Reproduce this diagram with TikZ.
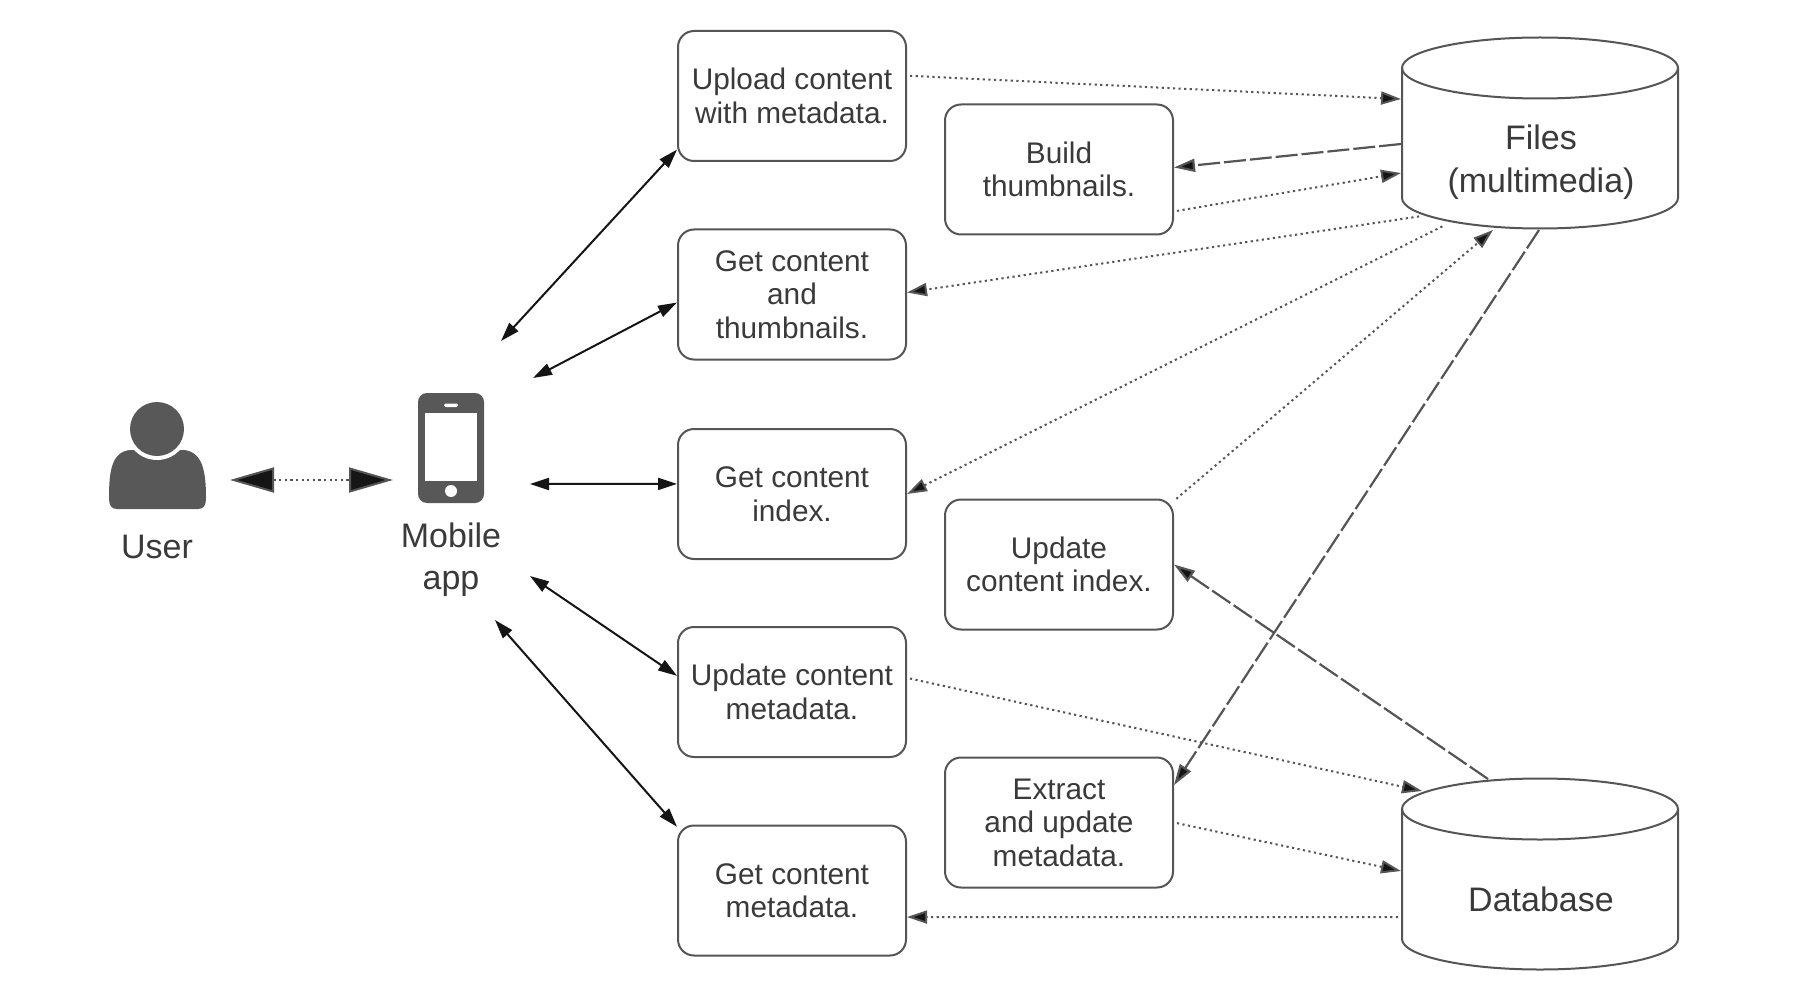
\documentclass[tikz,border=0pt]{standalone}
\usepackage{fontspec}
\setmainfont{Liberation Sans}
\usetikzlibrary{arrows.meta}
\definecolor{ink}{HTML}{3A3A3A}
\definecolor{edge}{HTML}{555555}
\definecolor{icon}{HTML}{585858}
\definecolor{tip}{HTML}{151515}
\tikzset{
  x=1pt,y=-1pt,
  box/.style={draw=edge,line width=2pt,rounded corners=16pt,minimum width=228pt,minimum height=130pt,inner sep=0pt,align=center,text=ink,font=\fontsize{29.8}{33.5}\selectfont},
  store/.pic={\draw[draw=edge,line width=2pt,fill=white]
      (-138,0) .. controls (-138,-16.8) and (-76.2,-30.5) .. (0,-30.5)
      .. controls (76.2,-30.5) and (138,-16.8) .. (138,0)
      -- (138,130) .. controls (138,146.8) and (76.2,160.5) .. (0,160.5)
      .. controls (-76.2,160.5) and (-138,146.8) .. (-138,130) -- cycle;
    \draw[draw=edge,line width=2pt]
      (-138,0) .. controls (-138,16.8) and (-76.2,30.5) .. (0,30.5)
      .. controls (76.2,30.5) and (138,16.8) .. (138,0);},
  cyltext/.style={align=center,text=ink,inner sep=0pt,font=\fontsize{34}{43.5}\selectfont},
  lab/.style={align=center,text=ink,inner sep=0pt,font=\fontsize{34}{41.5}\selectfont},
  solidarrow/.style={line width=2pt,draw=tip,{Triangle[length=19pt,width=12pt,fill=tip]}-{Triangle[length=19pt,width=12pt,fill=tip]}},
  dotflow/.style={line width=2pt,draw=edge,shorten <=3pt,dash pattern=on 2.2pt off 3.4pt,-{Triangle[length=20pt,width=13pt,fill=tip]}},
  dashflow/.style={line width=2.2pt,draw=edge,dash pattern=on 22pt off 4pt,-{Triangle[length=21pt,width=13pt,fill=tip]}},
  bigarrow/.style={line width=2pt,draw=edge,dash pattern=on 2.2pt off 3.4pt,{Triangle[length=44pt,width=25pt,fill=tip]}-{Triangle[length=44pt,width=25pt,fill=tip]}},
}
\begin{document}
\begin{tikzpicture}
\useasboundingbox (0,0) rectangle (1798,1008);
% boxes
\node[box] (upload) at (792,96) {Upload content\\with metadata.};
\node[box] (thumbs) at (792,294.5) {Get content\\and\\thumbnails.};
\node[box] (index) at (792,494) {Get content\\index.};
\node[box] (updmeta) at (792,692) {Update content\\metadata.};
\node[box] (getmeta) at (792,890.5) {Get content\\metadata.};
\node[box] (build) at (1059,169.5) {Build\\thumbnails.};
\node[box] (updindex) at (1059,564.5) {Update\\content index.};
\node[box] (extract) at (1059,822.5) {Extract\\and update\\metadata.};
% stores
\pic at (1540,68) {store};
\node[cyltext] (files) at (1541,162) {Files\\(multimedia)};
\pic at (1540,809) {store};
\node[cyltext] (db) at (1541,899) {Database};
% user icon
\fill[icon] (117,509) .. controls (111,509) and (109,505) .. (109,498) .. controls (109,470) and (112,452) .. (130,450) -- (184,450) .. controls (202,452) and (206,470) .. (206,498) .. controls (206,505) and (204,509) .. (198,509) -- cycle;
\fill[white] (157,429) circle (31);
\fill[icon] (157,429) circle (27);
\node[lab] (userlabel) at (157,547) {User};
% phone icon
\fill[icon,rounded corners=9pt] (418,393) rectangle (484,503);
\fill[white] (425,413) rectangle (477,481);
\fill[white,rounded corners=1.5pt] (444,403.5) rectangle (458,407);
\fill[white] (451,491) circle (6);
\node[lab] (applabel) at (451,559.5) {Mobile\\app};
% free ends
\coordinate (userend) at (230,480);
\coordinate (append) at (393,480);
\coordinate (a1) at (501,341);
\coordinate (a2) at (533,378);
\coordinate (a3) at (530,484);
\coordinate (a4) at (530,576);
\coordinate (a5) at (495,620);
\coordinate (f1) at (1401,99);
\coordinate (f2) at (1401,144);
\coordinate (f3) at (1401,173);
\coordinate (f4) at (1422,216);
\coordinate (f5) at (1445,225);
\coordinate (f6) at (1493,230);
\coordinate (f7) at (1539,230);
\coordinate (d1) at (1488,779);
\coordinate (d2) at (1422,791);
\coordinate (d3) at (1401,871);
\coordinate (d4) at (1401,917);
% connectors
\draw[bigarrow] (userend) -- (append);
\draw[solidarrow] (a1) -- (upload.205.8);
\draw[solidarrow] (a2) -- (thumbs.184.7);
\draw[solidarrow] (a3) -- (index.175);
\draw[solidarrow] (a4) -- (updmeta.172.5);
\draw[solidarrow] (a5) -- (getmeta.151.3);
\draw[dotflow] (upload.10.4) -- (f1);
\draw[dashflow] (f2) -- (build.1.8);
\draw[dotflow] (build.-20) -- (f3);
\draw[dotflow] (f4) -- (thumbs.1.2);
\draw[dotflow] (f5) -- (index.0.5);
\draw[dotflow] (updindex.29.5) -- (f6);
\draw[dashflow] (f7) -- (extract.18.2);
\draw[dashflow] (d1) -- (updindex.-0.7);
\draw[dotflow] (updmeta.7.4) -- (d2);
\draw[dotflow] (extract.0) -- (d3);
\draw[dotflow] (d4) -- (getmeta.-13);
\end{tikzpicture}
\end{document}
